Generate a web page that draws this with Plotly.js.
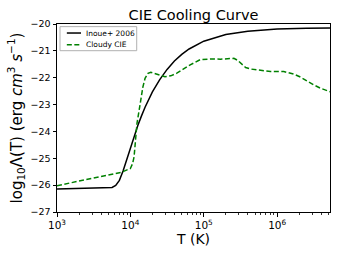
<!DOCTYPE html>
<html>
<head>
<meta charset="utf-8">
<script src="https://cdn.plot.ly/plotly-3.0.1.min.js"></script>
<style>html,body{margin:0;padding:0;background:#fff;}#chart{width:340px;height:255px;}</style>
</head>
<body>
<div id="chart"></div>
<script>
// Inoue+ 2006 curve (log10 T, log10 Lambda)
const inoueLogT = [3.0, 3.5, 3.7, 3.75, 3.8, 3.85, 3.9, 3.95, 4.0, 4.05, 4.1, 4.15, 4.2, 4.3, 4.4, 4.5, 4.6, 4.7, 4.8, 5.0, 5.3, 5.6, 6.0, 6.4, 6.72];
const inoueLogL = [-26.14, -26.115, -26.106, -26.086, -26.014, -25.82, -25.47, -25.04, -24.59, -24.18, -23.79, -23.43, -23.10, -22.53, -22.07, -21.69, -21.38, -21.13, -20.93, -20.64, -20.39, -20.27, -20.19, -20.16, -20.15];
// Cloudy CIE curve
const cloudyLogT = [3.0, 3.3, 3.6, 3.88, 4.0, 4.03, 4.05, 4.07, 4.09, 4.12, 4.14, 4.17, 4.2, 4.24, 4.278, 4.36, 4.47, 4.55, 4.633, 4.72, 4.815, 4.95, 5.09, 5.226, 5.41, 5.46, 5.5, 5.57, 5.65, 5.73, 5.91, 6.09, 6.23, 6.32, 6.41, 6.5, 6.59, 6.72];
const cloudyLogL = [-26.02, -25.85, -25.69, -25.52, -25.38, -25.2, -24.95, -24.3, -23.7, -23.2, -22.85, -22.35, -22.02, -21.84, -21.80, -21.87, -21.96, -21.93, -21.83, -21.68, -21.52, -21.33, -21.30, -21.31, -21.28, -21.35, -21.46, -21.62, -21.68, -21.71, -21.77, -21.77, -21.87, -21.98, -22.14, -22.27, -22.39, -22.52];

const seriesNames = ['Inoue+ 2006', 'Cloudy CIE'];
const xTickVals = [1e3, 1e4, 1e5, 1e6];
const xTickText = ['10<sup>3</sup>', '10<sup>4</sup>', '10<sup>5</sup>', '10<sup>6</sup>'];
const yTickVals = [-27, -26, -25, -24, -23, -22, -21, -20];
const yTickText = ['\u221227', '\u221226', '\u221225', '\u221224', '\u221223', '\u221222', '\u221221', '\u221220'];
const minorX = [];
[1e3, 1e4, 1e5, 1e6].forEach(d => { for (let k = 2; k <= 9; k++) { if (d * k < 5.3e6) minorX.push(d * k); } });

const toT = a => a.map(v => Math.pow(10, v));
const font = 'DejaVu Sans, sans-serif';
const colors = ['#000000', '#008000'];
const dashes = ['solid', '5px,2.5px'];

const data = [
  {x: toT(inoueLogT), y: inoueLogL, mode: 'lines', name: seriesNames[0], line: {color: colors[0], width: 1.5, dash: dashes[0]}},
  {x: toT(cloudyLogT), y: cloudyLogL, mode: 'lines', name: seriesNames[1], line: {color: colors[1], width: 1.5, dash: dashes[1]}}
];

// legend box drawn in paper coordinates (matplotlib-style compact legend)
const legRowY = [0.952, 0.890];
const shapes = [
  {type: 'rect', xref: 'paper', yref: 'paper', x0: 0.011, x1: 0.292, y0: 0.858, y1: 0.986, line: {color: '#b0b0b0', width: 1}, fillcolor: 'rgba(255,255,255,0.85)', layer: 'above'}
];
const annotations = [];
seriesNames.forEach((n, i) => {
  shapes.push({type: 'line', xref: 'paper', yref: 'paper', x0: 0.036, x1: 0.088, y0: legRowY[i], y1: legRowY[i], line: {color: colors[i], width: 1.5, dash: dashes[i]}, layer: 'above'});
  annotations.push({xref: 'paper', yref: 'paper', x: 0.1, y: legRowY[i], xanchor: 'left', yanchor: 'middle', text: n, showarrow: false, font: {family: font, size: 7.5, color: '#000'}});
});

const layout = {
  width: 340, height: 255,
  margin: {l: 57, r: 10, t: 24, b: 43},
  paper_bgcolor: '#fff', plot_bgcolor: '#fff',
  font: {family: font, color: '#000'},
  title: {text: 'CIE Cooling Curve', font: {family: font, size: 14.5, color: '#000'}, x: 0.5, xref: 'paper', xanchor: 'center', y: 1, yref: 'paper', yanchor: 'bottom', pad: {b: 4}},
  showlegend: false,
  shapes: shapes,
  annotations: annotations,
  xaxis: {
    type: 'log', range: [3, 6.72], showgrid: false, zeroline: false,
    showline: true, linecolor: '#000', linewidth: 1, mirror: true,
    ticks: 'outside', ticklen: 3.5, tickwidth: 1, tickcolor: '#000',
    tickmode: 'array', tickvals: xTickVals, ticktext: xTickText,
    tickfont: {family: font, size: 10.5, color: '#000'},
    minor: {tickmode: 'array', tickvals: minorX, ticks: 'outside', ticklen: 2, tickwidth: 0.8, tickcolor: '#000', showgrid: false},
    title: {text: 'T (K)', font: {family: font, size: 14, color: '#000'}, standoff: 0},
    automargin: false
  },
  yaxis: {
    range: [-27, -20], showgrid: false, zeroline: false,
    showline: true, linecolor: '#000', linewidth: 1, mirror: true,
    ticks: 'outside', ticklen: 3.5, tickwidth: 1, tickcolor: '#000',
    tickmode: 'array', tickvals: yTickVals, ticktext: yTickText,
    tickfont: {family: font, size: 9.5, color: '#000'},
    title: {text: 'log<sub>10</sub>\u039b(T) (erg <i>cm</i><sup>3</sup> <i>s</i><sup>\u22121</sup>)', font: {family: font, size: 15, color: '#000'}, standoff: 4},
    automargin: false
  }
};
Plotly.newPlot('chart', data, layout, {displayModeBar: false, staticPlot: true});
</script>
</body>
</html>
